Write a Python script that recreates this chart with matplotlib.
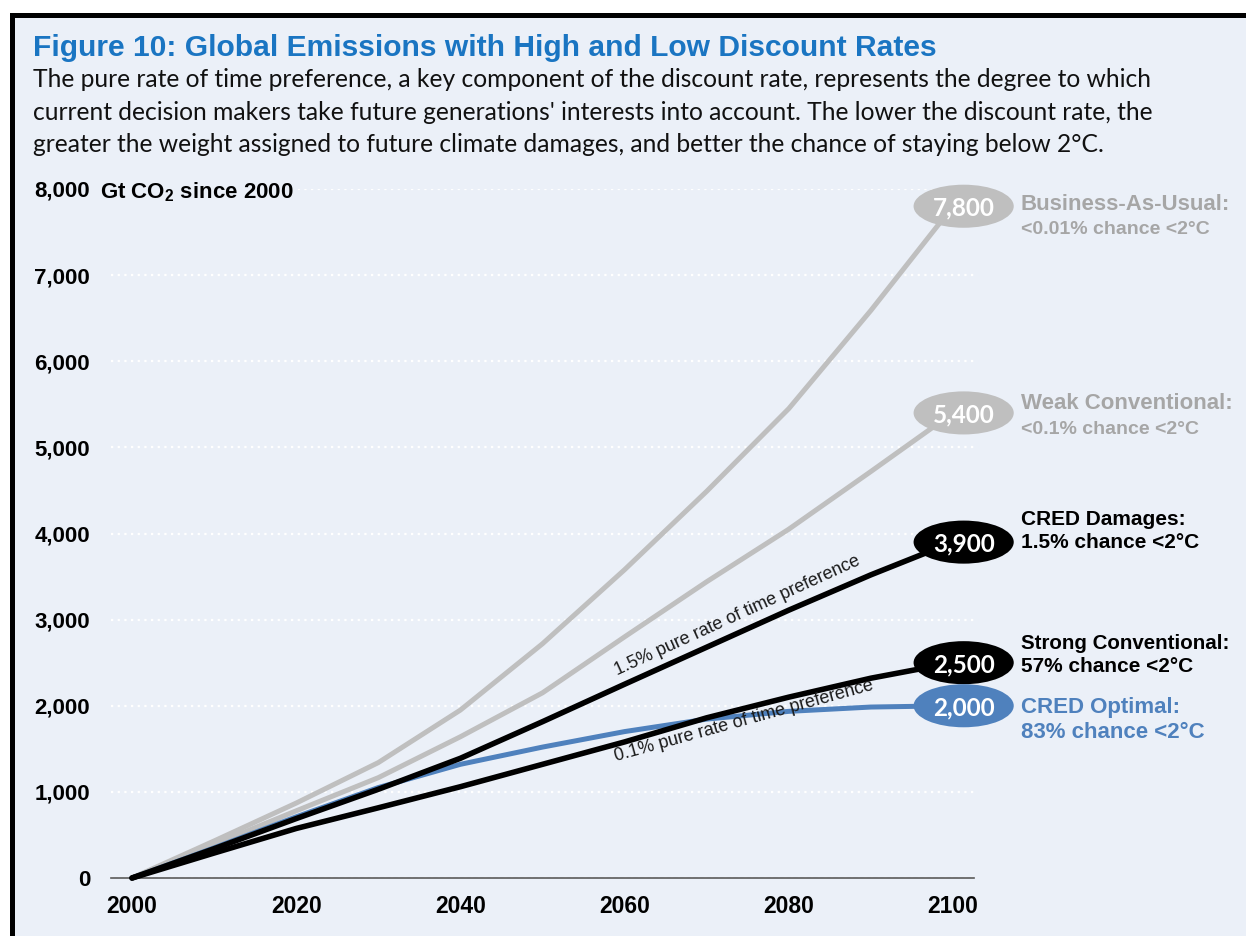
import matplotlib
matplotlib.use("Agg")
import matplotlib.pyplot as plt
from matplotlib.patches import Ellipse, Rectangle

plt.rcParams["font.family"] = ["Liberation Sans", "DejaVu Sans"]
plt.rcParams["mathtext.fontset"] = "custom"
plt.rcParams["mathtext.rm"] = "Liberation Sans"
plt.rcParams["mathtext.bf"] = "Liberation Sans:bold"

# cumulative emissions, Gt CO2 since 2000
years = [2000, 2010, 2020, 2030, 2040, 2050, 2060, 2070, 2080, 2090, 2100]
bau = [0, 430, 870, 1340, 1950, 2720, 3580, 4490, 5450, 6590, 7800]
weak_conv = [0, 390, 780, 1165, 1640, 2150, 2800, 3440, 4050, 4720, 5400]
cred_damages = [0, 340, 690, 1030, 1390, 1815, 2250, 2680, 3110, 3520, 3900]
strong_conv = [0, 290, 575, 815, 1060, 1320, 1580, 1860, 2100, 2320, 2500]
cred_optimal = [0, 350, 710, 1050, 1320, 1520, 1700, 1845, 1935, 1985, 2000]

names = ["Business-As-Usual:", "Weak Conventional:", "CRED Damages:",
         "Strong Conventional:", "CRED Optimal:"]
chances = ["<0.01% chance <2°C", "<0.1% chance <2°C", "1.5% chance <2°C",
           "57% chance <2°C", "83% chance <2°C"]

title = "Figure 10: Global Emissions with High and Low Discount Rates"
subtitle = [
    "The pure rate of time preference, a key component of the discount rate, represents the degree to which",
    "current decision makers take future generations' interests into account. The lower the discount rate, the",
    "greater the weight assigned to future climate damages, and better the chance of staying below 2°C.",
]

W, H = 1246, 936
BG = "#EBF0F8"
GREY = "#BFBFBF"
GREY_TXT = "#A6A6A6"
BLUE = "#4F81BD"

fig = plt.figure(figsize=(W / 100, H / 100), dpi=100, facecolor="white")
frame = Rectangle((12 / W, -0.1), 1.2, 1 - 15 / H + 0.1, transform=fig.transFigure,
                  facecolor=BG, edgecolor="black", linewidth=3.6, zorder=-10)
fig.add_artist(frame)

fig.text(33 / W, 1 - 56 / H, title, fontsize=21.6, fontweight="bold",
         color="#1A75C2", va="baseline")
for i, line in enumerate(subtitle):
    fig.text(33 / W, 1 - (87 + 32.5 * i) / H, line, fontsize=17.7, family=["Lato", "DejaVu Sans"],
             color="#111111", va="baseline")

ax = fig.add_axes([111 / W, 58 / H, (974 - 111) / W, (878 - 189) / H])
ax.set_facecolor("none")
ax.set_xlim(1997.44, 2102.56)
ax.set_ylim(0, 8000)

ax.yaxis.grid(True, color="white", linestyle=(0, (1, 2)), linewidth=1.6, zorder=0)
ax.set_axisbelow(True)
for side in ("top", "right", "left"):
    ax.spines[side].set_visible(False)
ax.spines["bottom"].set_color("#595959")
ax.spines["bottom"].set_linewidth(1.2)

ax.set_yticks(range(0, 8001, 1000))
ax.set_yticklabels([f"{v:,}" for v in range(0, 8001, 1000)], fontsize=16, fontweight="bold")
ax.set_xticks(range(2000, 2101, 20))
ax.set_xticklabels([str(y) for y in range(2000, 2101, 20)], fontsize=16.5, fontweight="bold")
ax.tick_params(axis="y", length=0, pad=15)
ax.tick_params(axis="x", length=0, pad=12)

fig.text(100 / W, 1 - 198 / H, r"Gt CO$_\mathbf{2}$ since 2000", fontsize=16, fontweight="bold",
         va="baseline", bbox=dict(facecolor=BG, edgecolor="none", pad=3))

line_kw = dict(solid_capstyle="round", solid_joinstyle="round", clip_on=False)
ax.plot(years, bau, color=GREY, lw=3.6, zorder=2, **line_kw)
ax.plot(years, weak_conv, color=GREY, lw=3.6, zorder=2, **line_kw)
ax.plot(years, cred_optimal, color=BLUE, lw=3.6, zorder=3, **line_kw)
ax.plot(years, cred_damages, color="black", lw=4.0, zorder=4, **line_kw)
ax.plot(years, strong_conv, color="black", lw=4.0, zorder=4, **line_kw)

ax.text(2073.7, 3050, "1.5% pure rate of time preference", rotation=24.5,
        rotation_mode="anchor", ha="center", va="center", fontsize=13, color="#1A1A1A", zorder=6)
ax.text(2074.5, 1825, "0.1% pure rate of time preference", rotation=15.5,
        rotation_mode="anchor", ha="center", va="center", fontsize=13, color="#1A1A1A", zorder=6)

# end-point bubbles and scenario labels
series = [bau, weak_conv, cred_damages, strong_conv, cred_optimal]
bubble_colors = [GREY, GREY, "black", "black", BLUE]
text_colors = [GREY_TXT, GREY_TXT, "black", "black", BLUE]
label_sizes = [(16, 14), (16, 14), (15, 15), (14.8, 15), (16, 16)]
label_dy = [(-4, -28), (4, -21), (17, -6), (14, -9), (-7, -32)]

for vals, bc, tc, sizes, dys, name, chance in zip(series, bubble_colors, text_colors,
                                                  label_sizes, label_dy, names, chances):
    end = vals[-1]
    ax.add_patch(Ellipse((2101.3, end), width=12.2, height=500, facecolor=bc,
                         edgecolor="none", zorder=7, clip_on=False))
    ax.text(2101.3, end, f"{end:,}", ha="center", va="center_baseline", color="white",
            fontsize=17.5, fontweight="bold", family=["Lato", "DejaVu Sans"], zorder=8, clip_on=False)
    for txt, size, dy in zip((name, chance), sizes, dys):
        ax.annotate(txt, xy=(2100, end), xycoords="data", xytext=(68, dy),
                    textcoords="offset pixels", ha="left", va="baseline", color=tc,
                    fontsize=size, fontweight="bold", annotation_clip=False)

fig.savefig("out.png", dpi=100, facecolor=fig.get_facecolor())
